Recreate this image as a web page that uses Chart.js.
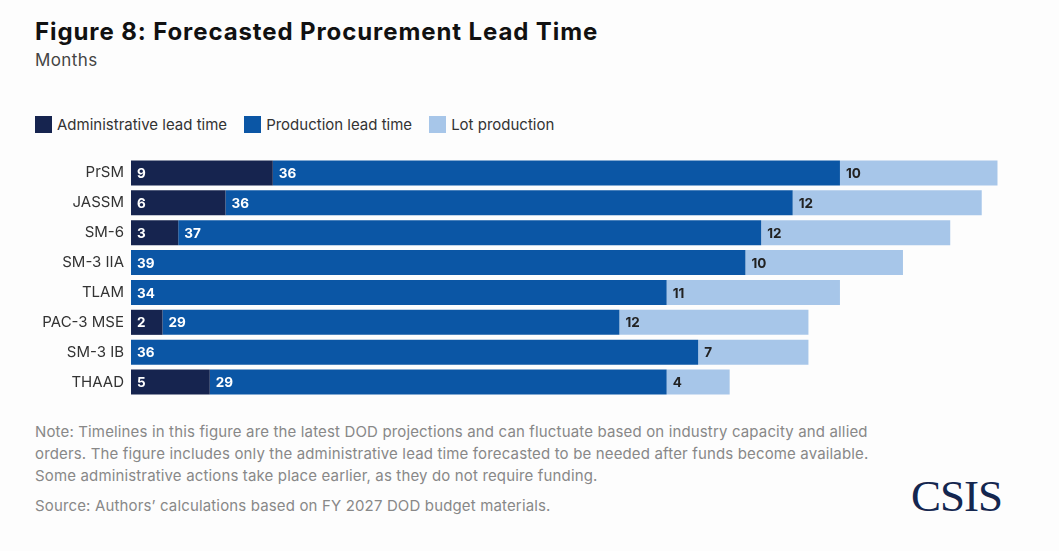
<!DOCTYPE html>
<html>
<head>
<meta charset="utf-8">
<script src="https://cdn.jsdelivr.net/npm/chart.js@4"></script>
<style>
  body { margin: 0; background: #fdfdfd; font-family: Inter, "Liberation Sans", sans-serif; }
  #wrap { position: relative; width: 1059px; height: 551px; overflow: hidden; }
  #title { position: absolute; left: 35px; top: 17px; font-size: 24px; font-weight: 700; color: #111; letter-spacing: 0.9px; }
  #sub { position: absolute; left: 35px; top: 50px; font-size: 17px; color: #444; letter-spacing: 0.4px; }
  #legend { position: absolute; left: 35px; top: 115px; display: flex; font-size: 15px; color: #333; }
  .item { display: flex; align-items: center; margin-right: 17px; }
  .box { width: 17px; height: 17px; margin-right: 5px; }
  #chart { position: absolute; left: 0; top: 142px; }
  #note { position: absolute; left: 35px; top: 421px; font-size: 15px; color: #888; line-height: 22px; letter-spacing: 0.15px; }
  #source { position: absolute; left: 35px; top: 496px; font-size: 15px; color: #888; letter-spacing: 0.15px; }
  #logo { position: absolute; left: 911px; top: 470px; font-family: "Liberation Serif", serif; font-size: 45px; color: #14264f; letter-spacing: -1px; }
</style>
</head>
<body>
<div id="wrap">
  <div id="title">Figure 8: Forecasted Procurement Lead Time</div>
  <div id="sub">Months</div>
  <div id="legend"></div>
  <canvas id="chart" width="1059" height="271"></canvas>
  <div id="note">Note: Timelines in this figure are the latest DOD projections and can fluctuate based on industry capacity and allied<br>orders. The figure includes only the administrative lead time forecasted to be needed after funds become available.<br>Some administrative actions take place earlier, as they do not require funding.</div>
  <div id="source">Source: Authors’ calculations based on FY 2027 DOD budget materials.</div>
  <div id="logo">CSIS</div>
</div>
<script>
const categories = ['PrSM', 'JASSM', 'SM-6', 'SM-3 IIA', 'TLAM', 'PAC-3 MSE', 'SM-3 IB', 'THAAD'];
const seriesNames = ['Administrative lead time', 'Production lead time', 'Lot production'];
const adminLead = [9, 6, 3, 0, 0, 2, 0, 5];
const productionLead = [36, 36, 37, 39, 34, 29, 36, 29];
const lotProduction = [10, 12, 12, 10, 11, 12, 7, 4];
const colors = ['#16244f', '#0b56a5', '#a7c6e9'];
const labelColors = ['#ffffff', '#ffffff', '#222222'];
const FONT = 'Inter, "Liberation Sans", sans-serif';

// legend
const legend = document.getElementById('legend');
seriesNames.forEach((name, i) => {
  const div = document.createElement('div');
  div.className = 'item';
  div.innerHTML = `<span class="box" style="background:${colors[i]}"></span>${name}`;
  legend.appendChild(div);
});

// value labels at the start of each segment
const segmentLabels = {
  id: 'segmentLabels',
  afterDatasetsDraw(chart) {
    const ctx = chart.ctx;
    ctx.save();
    ctx.font = 'bold 13.5px ' + FONT;
    ctx.textBaseline = 'middle';
    ctx.textAlign = 'left';
    chart.data.datasets.forEach((ds, i) => {
      chart.getDatasetMeta(i).data.forEach((bar, j) => {
        const v = ds.data[j];
        if (!v) return;
        ctx.fillStyle = labelColors[i];
        ctx.fillText(v, Math.min(bar.x, bar.base) + 6, bar.y + 1);
      });
    });
    ctx.restore();
  }
};

new Chart(document.getElementById('chart'), {
  type: 'bar',
  data: {
    labels: categories,
    datasets: [
      { label: seriesNames[0], data: adminLead, backgroundColor: colors[0] },
      { label: seriesNames[1], data: productionLead, backgroundColor: colors[1] },
      { label: seriesNames[2], data: lotProduction, backgroundColor: colors[2] }
    ]
  },
  options: {
    indexAxis: 'y',
    responsive: false,
    animation: false,
    devicePixelRatio: 1,
    layout: { padding: { left: 0, right: 30, top: 0, bottom: 0 } },
    datasets: { bar: { categoryPercentage: 1, barPercentage: 0.84, borderWidth: 0 } },
    scales: {
      x: { stacked: true, min: 0, max: 57, display: false },
      y: {
        stacked: true,
        grid: { display: false, drawTicks: false },
        border: { display: false },
        ticks: { color: '#333', font: { size: 15, family: FONT }, padding: 7 },
        afterFit(scale) { scale.width = 131; }
      }
    },
    plugins: { legend: { display: false }, tooltip: { enabled: false } }
  },
  plugins: [segmentLabels]
});
</script>
</body>
</html>
